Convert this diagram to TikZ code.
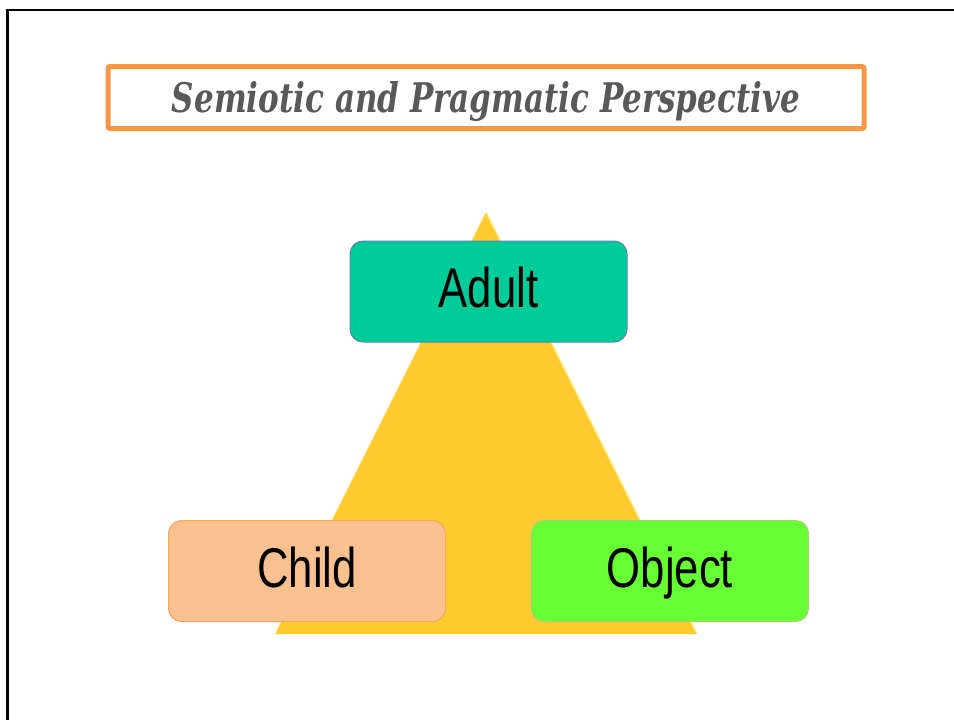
\documentclass[tikz,border=0pt]{standalone}
\usepackage{fontspec}
\setmainfont{Liberation Sans}
\newfontfamily\titlefont{DejaVu Serif}
\definecolor{framecol}{HTML}{000000}
\definecolor{titleline}{HTML}{F79646}
\definecolor{titletext}{HTML}{595959}
\definecolor{trifill}{HTML}{FFCA2E}
\definecolor{triedge}{HTML}{FFE98A}
\definecolor{adultfill}{HTML}{00CC99}
\definecolor{adultline}{HTML}{5B83B8}
\definecolor{childfill}{HTML}{F9C190}
\definecolor{childline}{HTML}{F5A55E}
\definecolor{objfill}{HTML}{66FF33}
\definecolor{objline}{HTML}{A4D070}
\tikzset{
  termbox/.style={rounded corners=13pt, minimum width=277pt, minimum height=101pt,
    line width=1pt, inner sep=0pt, text=black, text height=32pt, text depth=0pt,
    font=\fontsize{56}{60}\selectfont},
}
\newcommand{\narrow}[1]{\scalebox{0.78}[1]{#1}}
\begin{document}
\begin{tikzpicture}[x=1pt,y=-1pt]
  \useasboundingbox (0,0) rectangle (954,720);
  % outer frame (left and top edges)
  \draw[framecol, line width=2.5pt] (7.5,725) -- (7.5,10) -- (960,10);
  % title banner
  \node[draw=titleline, line width=5pt, rounded corners=2pt,
        minimum width=756pt, minimum height=62pt, inner sep=0pt,
        text height=30pt, text depth=0pt]
        (title) at (486,97.5)
        {\resizebox{628pt}{31pt}{\titlefont\bfseries\itshape\color{titletext}Semiotic and Pragmatic Perspective}};
  % triangle backdrop
  \coordinate (apex) at (486,212);
  \coordinate (bl) at (275,634);
  \coordinate (br) at (697,634);
  \fill[trifill] (apex) -- (br) -- (bl) -- cycle;
  \draw[triedge, line width=1.5pt] (apex) -- (br);
  % the three roles
  \node[termbox, draw=adultline, fill=adultfill] (adult) at (488.5,291.5) {\narrow{Adult}};
  \node[termbox, draw=childline, fill=childfill] (child) at (307,571) {\narrow{Child}};
  \node[termbox, draw=objline, fill=objfill] (object) at (670,571) {\narrow{Object}};
\end{tikzpicture}
\end{document}
